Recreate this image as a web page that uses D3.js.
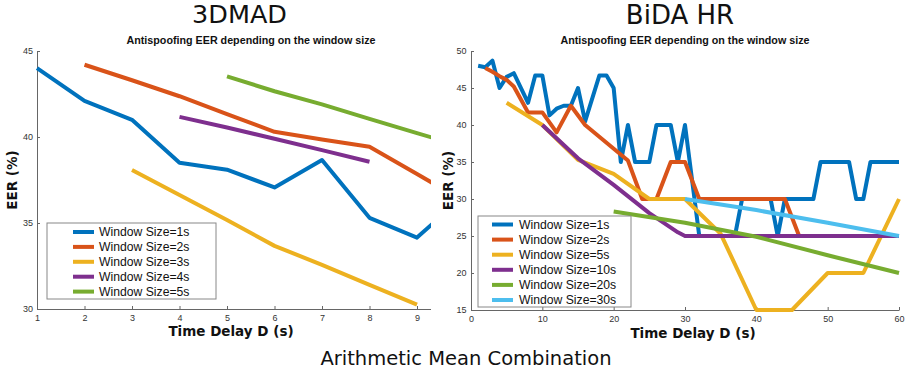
<!DOCTYPE html>
<html>
<head>
<meta charset="utf-8">
<script src="https://cdn.jsdelivr.net/npm/d3@7"></script>
<style>
  body { margin: 0; background: #fff; }
  svg { display: block; }
</style>
</head>
<body>
<svg id="chart" width="914" height="373"></svg>
<script>
// ---- data ----
const colors = ['#0072BD', '#D95319', '#EDB120', '#7E2F8E', '#77AC30', '#4DBEEE'];

// 3DMAD: [time delay, EER]
const madLabels = ['Window Size=1s', 'Window Size=2s', 'Window Size=3s', 'Window Size=4s', 'Window Size=5s'];
const mad1s = [[1, 44.0], [2, 42.1], [3, 41.0], [4, 38.5], [5, 38.1], [6, 37.07], [7, 38.66], [8, 35.3], [9, 34.15], [10, 36.6]];
const mad2s = [[2, 44.2], [3, 43.3], [4, 42.37], [5, 41.33], [6, 40.3], [7, 39.86], [8, 39.43], [9, 37.85], [10, 36.25]];
const mad3s = [[3, 38.08], [4, 36.63], [5, 35.18], [6, 33.67], [7, 32.57], [8, 31.4], [9, 30.25]];
const mad4s = [[4, 41.17], [5, 40.55], [6, 39.9], [7, 39.24], [8, 38.56]];
const mad5s = [[5, 43.53], [6, 42.66], [7, 41.9], [8, 41.05], [9, 40.23], [10, 39.4]];
const madXTicks = [1, 2, 3, 4, 5, 6, 7, 8, 9];
const madYTicks = [30, 35, 40, 45];

// BiDA HR: [time delay, EER]
const bidaLabels = ['Window Size=1s', 'Window Size=2s', 'Window Size=5s', 'Window Size=10s', 'Window Size=20s', 'Window Size=30s'];
const bida1s = [[1, 48], [2, 47.8], [3, 48.7], [4, 45], [5, 46.5], [6, 47], [8, 43], [9, 46.7], [10, 46.7], [11, 41.3],
  [12, 42.2], [13, 42.6], [14, 42.6], [15, 45], [16, 40.5], [18, 46.7], [19, 46.7], [20, 45], [21, 35], [22, 40],
  [23, 35], [25, 35], [26, 40], [28, 40], [29, 35], [30, 40], [32, 25], [37, 25], [38, 30], [42, 30], [43, 25],
  [44, 30], [48, 30], [49, 35], [53, 35], [54, 30], [55, 30], [56, 35], [60, 35]];
const bida2s = [[2, 47.7], [3, 47.2], [4, 46.6], [5, 46.1], [6, 45.2], [8, 41.7], [10, 41.7], [12, 39], [14, 42.6],
  [16, 40], [22, 35.2], [24, 30], [26, 30], [28, 35], [30, 35], [32, 30], [44, 30], [46, 25], [60, 25]];
const bida5s = [[5, 43], [10, 40], [15, 35.3], [20, 33.4], [25, 30], [30, 30], [35, 25.3], [40, 15], [45, 15],
  [50, 20], [55, 20], [60, 30]];
const bida10s = [[10, 40], [15, 35.5], [20, 31.9], [25, 28.1], [29, 25.5], [30, 25], [60, 25]];
const bida20s = [[20, 28.3], [30, 26.8], [40, 24.9], [50, 22.4], [60, 20]];
const bida30s = [[30, 30], [40, 28.5], [50, 26.8], [60, 25]];
const bidaXTicks = [0, 10, 20, 30, 40, 50, 60];
const bidaYTicks = [15, 20, 25, 30, 35, 40, 45, 50];

const svg = d3.select('#chart');

function drawPanel(cfg) {
  const x = d3.scaleLinear().domain(cfg.xDomain).range(cfg.xRange);
  const y = d3.scaleLinear().domain(cfg.yDomain).range(cfg.yRange);

  const g = svg.append('g');
  if (cfg.clipRight) {
    svg.append('clipPath').attr('id', cfg.id + '-clip')
      .append('rect').attr('x', 0).attr('y', 0).attr('width', cfg.clipRight).attr('height', 373);
    g.attr('clip-path', `url(#${cfg.id}-clip)`);
  }

  // axes (MATLAB style: inward ticks, no box)
  const xAxis = d3.axisBottom(x).tickValues(cfg.xTicks).tickSizeInner(-3).tickSizeOuter(0).tickPadding(6);
  const yAxis = d3.axisLeft(y).tickValues(cfg.yTicks).tickSizeInner(-3).tickSizeOuter(0).tickPadding(cfg.yPad);

  [g.append('g').attr('transform', `translate(0,${cfg.yRange[0]})`).call(xAxis),
   g.append('g').attr('transform', `translate(${cfg.xRange[0]},0)`).call(yAxis)]
    .forEach(a => {
      a.attr('font-family', '"Liberation Sans", Arial, sans-serif').attr('font-size', 9);
      a.selectAll('path, line').attr('stroke', '#666');
      a.selectAll('text').attr('fill', '#333');
    });

  // lines
  const line = d3.line().x(d => x(d[0])).y(d => y(d[1]));
  svg.append('clipPath').attr('id', cfg.id + '-plot')
    .append('rect')
    .attr('x', cfg.xRange[0] - 3).attr('y', cfg.yRange[1] - 3)
    .attr('width', cfg.xRange[1] - cfg.xRange[0] + 6).attr('height', cfg.yRange[0] - cfg.yRange[1] + 6);
  g.append('g').attr('clip-path', `url(#${cfg.id}-plot)`)
    .selectAll('path')
    .data(cfg.series)
    .join('path')
    .attr('d', line)
    .attr('fill', 'none')
    .attr('stroke', (d, i) => colors[i])
    .attr('stroke-width', 4)
    .attr('stroke-linejoin', 'round');

  // title
  g.append('text')
    .attr('x', cfg.titleX).attr('y', 44)
    .attr('text-anchor', 'middle')
    .attr('font-family', '"Liberation Sans", Arial, sans-serif')
    .attr('font-weight', 'bold').attr('font-size', 10)
    .attr('textLength', 249).attr('lengthAdjust', 'spacingAndGlyphs')
    .attr('fill', '#111')
    .text('Antispoofing EER depending on the window size');

  // axis labels
  g.append('text')
    .attr('x', cfg.xLabelX).attr('y', cfg.xLabelY)
    .attr('text-anchor', 'middle')
    .attr('font-family', '"DejaVu Sans", Verdana, sans-serif')
    .attr('font-weight', 'bold').attr('font-size', 13.5)
    .attr('fill', '#111')
    .text('Time Delay D (s)');

  g.append('text')
    .attr('transform', `translate(${cfg.yLabelX},${(cfg.yRange[0] + cfg.yRange[1]) / 2}) rotate(-90)`)
    .attr('text-anchor', 'middle')
    .attr('font-family', '"DejaVu Sans", Verdana, sans-serif')
    .attr('font-weight', 'bold').attr('font-size', 13.5)
    .attr('fill', '#111')
    .text('EER (%)');

  // legend
  const L = cfg.legend;
  const leg = g.append('g');
  leg.append('rect')
    .attr('x', L.x).attr('y', L.y).attr('width', L.w).attr('height', L.h)
    .attr('fill', '#fff').attr('stroke', '#888').attr('stroke-width', 1);
  const items = leg.selectAll('g.item')
    .data(cfg.labels)
    .join('g')
    .attr('class', 'item')
    .attr('transform', (d, i) => `translate(0,${L.row0 + i * L.step})`);
  items.append('line')
    .attr('x1', L.lineX1).attr('x2', L.lineX2)
    .attr('stroke', (d, i) => colors[i]).attr('stroke-width', 4);
  items.append('text')
    .attr('x', L.textX).attr('dy', '0.36em')
    .attr('font-family', '"Liberation Sans", Arial, sans-serif')
    .attr('font-size', 12.2)
    .attr('fill', '#111')
    .text(d => d);
}

drawPanel({
  id: 'mad',
  xDomain: [1, 10], xRange: [37, 464.5],
  yDomain: [30, 45], yRange: [309, 51],
  xTicks: madXTicks, yTicks: madYTicks, yPad: 4,
  clipRight: 431,
  series: [mad1s, mad2s, mad3s, mad4s, mad5s],
  labels: madLabels,
  titleX: 251, xLabelX: 231, xLabelY: 336, yLabelX: 17,
  legend: { x: 47, y: 223, w: 169, h: 76, row0: 232, step: 14.9, lineX1: 73, lineX2: 94, textX: 99 }
});

drawPanel({
  id: 'bida',
  xDomain: [0, 60], xRange: [471, 899],
  yDomain: [15, 50], yRange: [310, 51],
  xTicks: bidaXTicks, yTicks: bidaYTicks, yPad: 4.5,
  clipRight: null,
  series: [bida1s, bida2s, bida5s, bida10s, bida20s, bida30s],
  labels: bidaLabels,
  titleX: 685, xLabelX: 693, xLabelY: 338, yLabelX: 453,
  legend: { x: 478, y: 216, w: 153, h: 91, row0: 224.5, step: 15.1, lineX1: 492, lineX2: 513, textX: 519 }
});

// headings
const heading = (txt, x, y, size) => svg.append('text')
  .attr('x', x).attr('y', y)
  .attr('text-anchor', 'middle')
  .attr('font-family', '"DejaVu Sans", Verdana, sans-serif')
  .attr('font-size', size)
  .attr('fill', '#111')
  .text(txt);

heading('3DMAD', 239.5, 23, 25.5);
heading('BiDA HR', 680, 24, 26);
heading('Arithmetic Mean Combination', 466, 365, 19.5);
</script>
</body>
</html>
